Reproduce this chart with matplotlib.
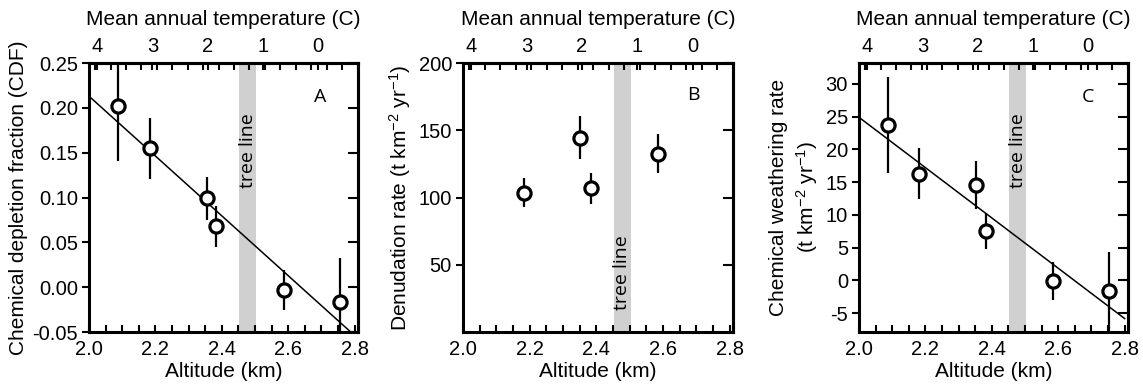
import matplotlib
matplotlib.use("Agg")
import matplotlib.pyplot as plt
from matplotlib.ticker import MultipleLocator, FixedLocator, FormatStrFormatter
import numpy as np

plt.rcParams['font.family'] = ['Liberation Sans', 'DejaVu Sans']
plt.rcParams['mathtext.fontset'] = 'custom'
plt.rcParams['mathtext.rm'] = 'Liberation Sans'
plt.rcParams['mathtext.it'] = 'Liberation Sans'
plt.rcParams['axes.unicode_minus'] = False

# data
alt_a = [2.088, 2.184, 2.355, 2.383, 2.586, 2.757]
cdf = [0.202, 0.155, 0.099, 0.068, -0.003, -0.0165]
cdf_err = [0.061, 0.034, 0.024, 0.023, 0.022, 0.049]
fit_a_x = [2.0, 2.8]
fit_a_y = [0.213, -0.054]

alt_b = [2.184, 2.352, 2.383, 2.586]
denud = [103.7, 144.4, 107.0, 132.7]
denud_err = [11.0, 16.0, 11.5, 14.4]

alt_c = [2.088, 2.182, 2.353, 2.381, 2.583, 2.752]
cwr = [23.75, 16.3, 14.6, 7.5, -0.15, -1.7]
cwr_err = [7.3, 3.95, 3.7, 2.75, 2.9, 6.0]
fit_c_x = [2.0, 2.8]
fit_c_y = [24.9, -5.85]

tree_line = (2.452, 2.503)
temp_ticks = [4, 3, 2, 1, 0]
alt_zero_c = 2.689   # altitude of 0 C
lapse = 0.166        # km per degree C


def alt2temp(a):
    return (alt_zero_c - np.asarray(a)) / lapse


def temp2alt(t):
    return alt_zero_c - np.asarray(t) * lapse


fig = plt.figure(figsize=(11.43, 3.88), dpi=100)
W, H = 1143, 388
boxes = [(89, 358), (463, 733), (859, 1128)]
top_px, bot_px = 63, 332

lw_spine = 2.2
tick_kw = dict(width=1.5, length=5)
tick_fs = 14.5
label_fs = 15


def make_panel(x0, x1):
    ax = fig.add_axes([x0 / W, (H - bot_px) / H, (x1 - x0) / W, (bot_px - top_px) / H])
    for s in ax.spines.values():
        s.set_linewidth(lw_spine)
    ax.set_xlim(2.0, 2.81)
    ax.xaxis.set_major_locator(MultipleLocator(0.2))
    ax.xaxis.set_minor_locator(MultipleLocator(0.05))
    ax.xaxis.set_major_formatter(FormatStrFormatter('%.1f'))
    ax.tick_params(axis='x', which='both', direction='in', labelsize=tick_fs, pad=6, **tick_kw)
    ax.tick_params(axis='y', which='major', direction='out', labelsize=tick_fs, pad=3, **tick_kw)
    ax.set_xlabel('Altitude (km)', fontsize=label_fs, labelpad=2)
    ax.axvspan(*tree_line, color='#d0d0d0', lw=0, zorder=0)

    top = ax.secondary_xaxis('top', functions=(alt2temp, temp2alt))
    top.spines['top'].set_linewidth(lw_spine)
    top.xaxis.set_major_locator(FixedLocator(temp_ticks))
    top.xaxis.set_minor_locator(FixedLocator(np.arange(4.04, -0.8, -0.28)))
    top.tick_params(which='both', direction='in', labelsize=tick_fs, pad=5, **tick_kw)
    top.set_xlabel('Mean annual temperature (C)', fontsize=label_fs, labelpad=9)

    right = ax.secondary_yaxis('right')
    right.spines['right'].set_linewidth(lw_spine)
    right.tick_params(direction='in', labelright=False, width=1.5, length=7)
    return ax, right


def draw_points(ax, x, y, err):
    ax.errorbar(x, y, yerr=err, fmt='o', ms=9.5, mfc='white', mec='black',
                mew=2.3, ecolor='black', elinewidth=1.6, capsize=0, zorder=3)


label_font = dict(family=['Open Sans', 'DejaVu Sans'], fontsize=14)

# Panel A
ax, right = make_panel(*boxes[0])
ax.set_ylim(-0.05, 0.25)
ax.yaxis.set_major_locator(MultipleLocator(0.05))
ax.yaxis.set_major_formatter(FormatStrFormatter('%.2f'))
right.yaxis.set_major_locator(MultipleLocator(0.05))
ax.plot(fit_a_x, fit_a_y, color='black', lw=1.1, zorder=2)
draw_points(ax, alt_a, cdf, cdf_err)
ax.set_ylabel('Chemical depletion fraction (CDF)', fontsize=label_fs, labelpad=3)
ax.text(0.859, 0.874, 'A', transform=ax.transAxes, ha='center', va='center', **label_font)
ax.text(0.5 * sum(tree_line), 0.673, 'tree line', transform=ax.get_xaxis_transform(),
        rotation=90, ha='center', va='center', **label_font)

# Panel B
ax, right = make_panel(*boxes[1])
ax.set_ylim(0, 200)
ax.yaxis.set_major_locator(FixedLocator([50, 100, 150, 200]))
right.yaxis.set_major_locator(FixedLocator([50, 100, 150, 200]))
draw_points(ax, alt_b, denud, denud_err)
ax.set_ylabel('Denudation rate (t km$^{-2}$ yr$^{-1}$)', fontsize=label_fs, labelpad=4)
ax.text(0.852, 0.881, 'B', transform=ax.transAxes, ha='center', va='center', **label_font)
ax.text(0.5 * sum(tree_line), 0.219, 'tree line', transform=ax.get_xaxis_transform(),
        rotation=90, ha='center', va='center', **label_font)

# Panel C
ax, right = make_panel(*boxes[2])
ax.set_ylim(-7.9, 33.2)
ax.yaxis.set_major_locator(MultipleLocator(5))
right.yaxis.set_major_locator(MultipleLocator(5))
ax.plot(fit_c_x, fit_c_y, color='black', lw=1.1, zorder=2)
draw_points(ax, alt_c, cwr, cwr_err)
ax.set_ylabel('Chemical weathering rate\n(t km$^{-2}$ yr$^{-1}$)', fontsize=label_fs, labelpad=4,
              linespacing=1.3)
ax.text(0.851, 0.874, 'C', transform=ax.transAxes, ha='center', va='center', **label_font)
ax.text(0.5 * sum(tree_line), 0.673, 'tree line', transform=ax.get_xaxis_transform(),
        rotation=90, ha='center', va='center', **label_font)

fig.savefig('out.png', dpi=100)
